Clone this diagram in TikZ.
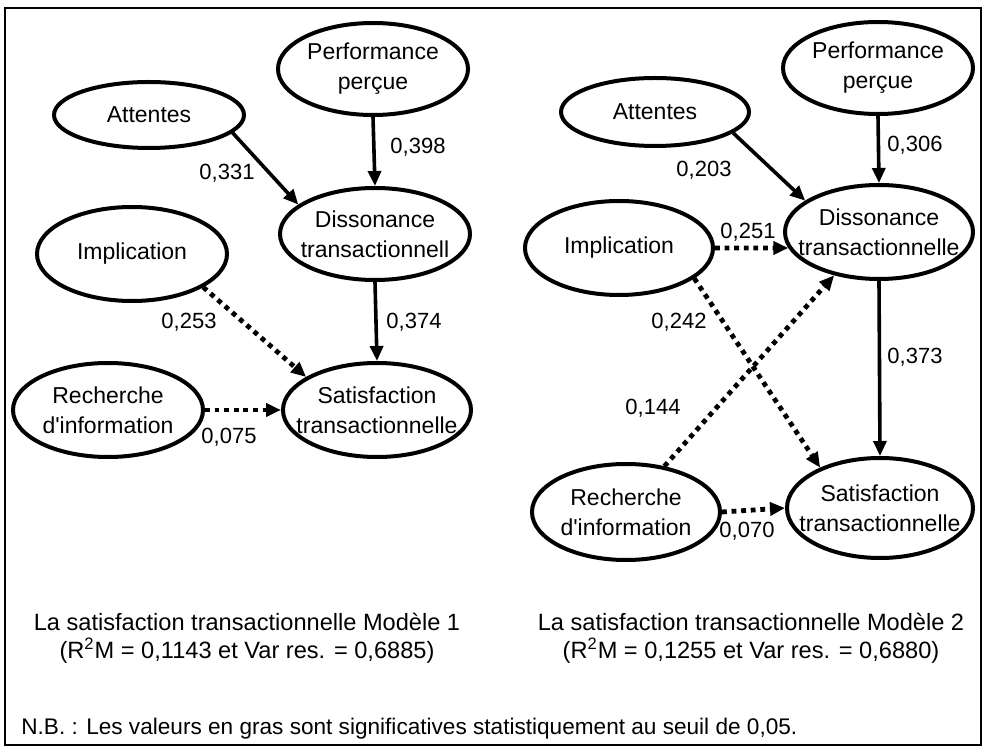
\documentclass[tikz,border=0pt]{standalone}
\usepackage{fontspec}
\setmainfont{Liberation Sans}
\usetikzlibrary{arrows.meta}
\usetikzlibrary{shapes.geometric}

\begin{document}
\begin{tikzpicture}
	[x=0.5pt, y=-0.5pt,
	latent/.style={ellipse, draw, line width=2pt, inner sep=0pt, minimum width=95pt, minimum height=47pt},
	vartext/.style={align=center, inner sep=0pt, font=\fontsize{11.5}{15}\selectfont},
	coef/.style={inner sep=0pt, font=\fontsize{11}{13}\selectfont},
	caption/.style={inner sep=0pt, font=\fontsize{11.8}{14}\selectfont},
	sig/.style={-{Triangle[length=7.5pt,width=6.5pt]}, line width=1.8pt},
	nonsig/.style={-{Triangle[length=7.5pt,width=6.5pt]}, line width=2.4pt, dash pattern=on 2.4pt off 2.4pt}];

	\useasboundingbox (0,0) rectangle (986,748);
	%Frame
	\draw[line width=0.9pt] (5,8) rectangle (981,745);

	%Model 1
	\node[latent, minimum height=33pt] (att1) at (149,115) {};
	\node[vartext] (att1t) at (att1) {Attentes};
	\node[latent, minimum height=46pt] (perf1) at (373,69) {};
	\node[vartext] (perf1t) at (perf1) {Performance\\perçue};
	\node[latent, minimum height=46pt] (dis1) at (375,234) {};
	\node[vartext] (dis1t) at (dis1) {Dissonance\\transactionnell};
	\node[latent] (impl1) at (132,254) {};
	\node[vartext] (impl1t) at (impl1) {Implication};
	\node[latent] (rech1) at (108,410) {};
	\node[vartext] (rech1t) at (rech1) {Recherche\\d\textquotesingle information};
	\node[latent, minimum width=94pt] (sat1) at (377,410) {};
	\node[vartext] (sat1t) at (sat1) {Satisfaction\\transactionnelle};

	\draw[sig] (att1.-12) -- (dis1.159);
	\draw[sig] (perf1.south) -- (dis1.north);
	\draw[sig] (dis1.south) -- (sat1.north);
	\draw[nonsig] (impl1.-25) -- (sat1.155);
	\draw[nonsig] (rech1.east) -- (sat1.west);

	\node[coef] (c331) at (227,173) {0,331};
	\node[coef] (c398) at (418,147) {0,398};
	\node[coef] (c253) at (189,322) {0,253};
	\node[coef] (c374) at (414,322) {0,374};
	\node[coef] (c075) at (229,437) {0,075};

	%Model 2
	\node[latent, minimum width=94pt, minimum height=34pt] (att2) at (655,112) {};
	\node[vartext] (att2t) at (att2) {Attentes};
	\node[latent, minimum height=46pt] (perf2) at (878,68) {};
	\node[vartext] (perf2t) at (perf2) {Performance\\perçue};
	\node[latent, minimum width=94pt] (dis2) at (879,232) {};
	\node[vartext] (dis2t) at (dis2) {Dissonance\\transactionnelle};
	\node[latent, minimum width=94pt] (impl2) at (619,248) {};
	\node[vartext] (impl2t) at (impl2) {Implication};
	\node[latent, minimum width=94pt, minimum height=48pt] (rech2) at (626,512) {};
	\node[vartext] (rech2t) at (rech2) {Recherche\\d\textquotesingle information};
	\node[latent, minimum width=93pt, minimum height=50pt] (sat2) at (880,508) {};
	\node[vartext] (sat2t) at (sat2) {Satisfaction\\transactionnelle};

	\draw[sig] (att2.-15) -- (dis2.157);
	\draw[sig] (perf2.south) -- (dis2.north);
	\draw[sig] (dis2.south) -- (sat2.north);
	\draw[nonsig] (impl2.east) -- (dis2.190);
	\draw[nonsig] (impl2.-22) -- (sat2.146);
	\draw[nonsig] (rech2.50) -- (dis2.-136);
	\draw[nonsig] (rech2.east) -- (sat2.west);

	\node[coef] (c306) at (915,145) {0,306};
	\node[coef] (c203) at (704,170) {0,203};
	\node[coef] (c251) at (748,232) {0,251};
	\node[coef] (c242) at (679,322) {0,242};
	\node[coef] (c373) at (915,357) {0,373};
	\node[coef] (c144) at (653,408) {0,144};
	\node[coef] (c070) at (747,531) {0,070};

	%Captions
	\node[caption] (cap1) at (247,622) {La satisfaction transactionnelle Modèle 1};
	\node[caption] (res1) at (247,651) {(R\textsuperscript{2}M = 0,1143 et Var res. = 0,6885)};
	\node[caption] (cap2) at (751,622) {La satisfaction transactionnelle Modèle 2};
	\node[caption] (res2) at (751,651) {(R\textsuperscript{2}M = 0,1255 et Var res. = 0,6880)};
	\node[caption, font=\fontsize{11.3}{14}\selectfont, anchor=west] (nb) at (21,729) {N.B. : Les valeurs en gras sont significatives statistiquement au seuil de 0,05.};
\end{tikzpicture}
\end{document}
